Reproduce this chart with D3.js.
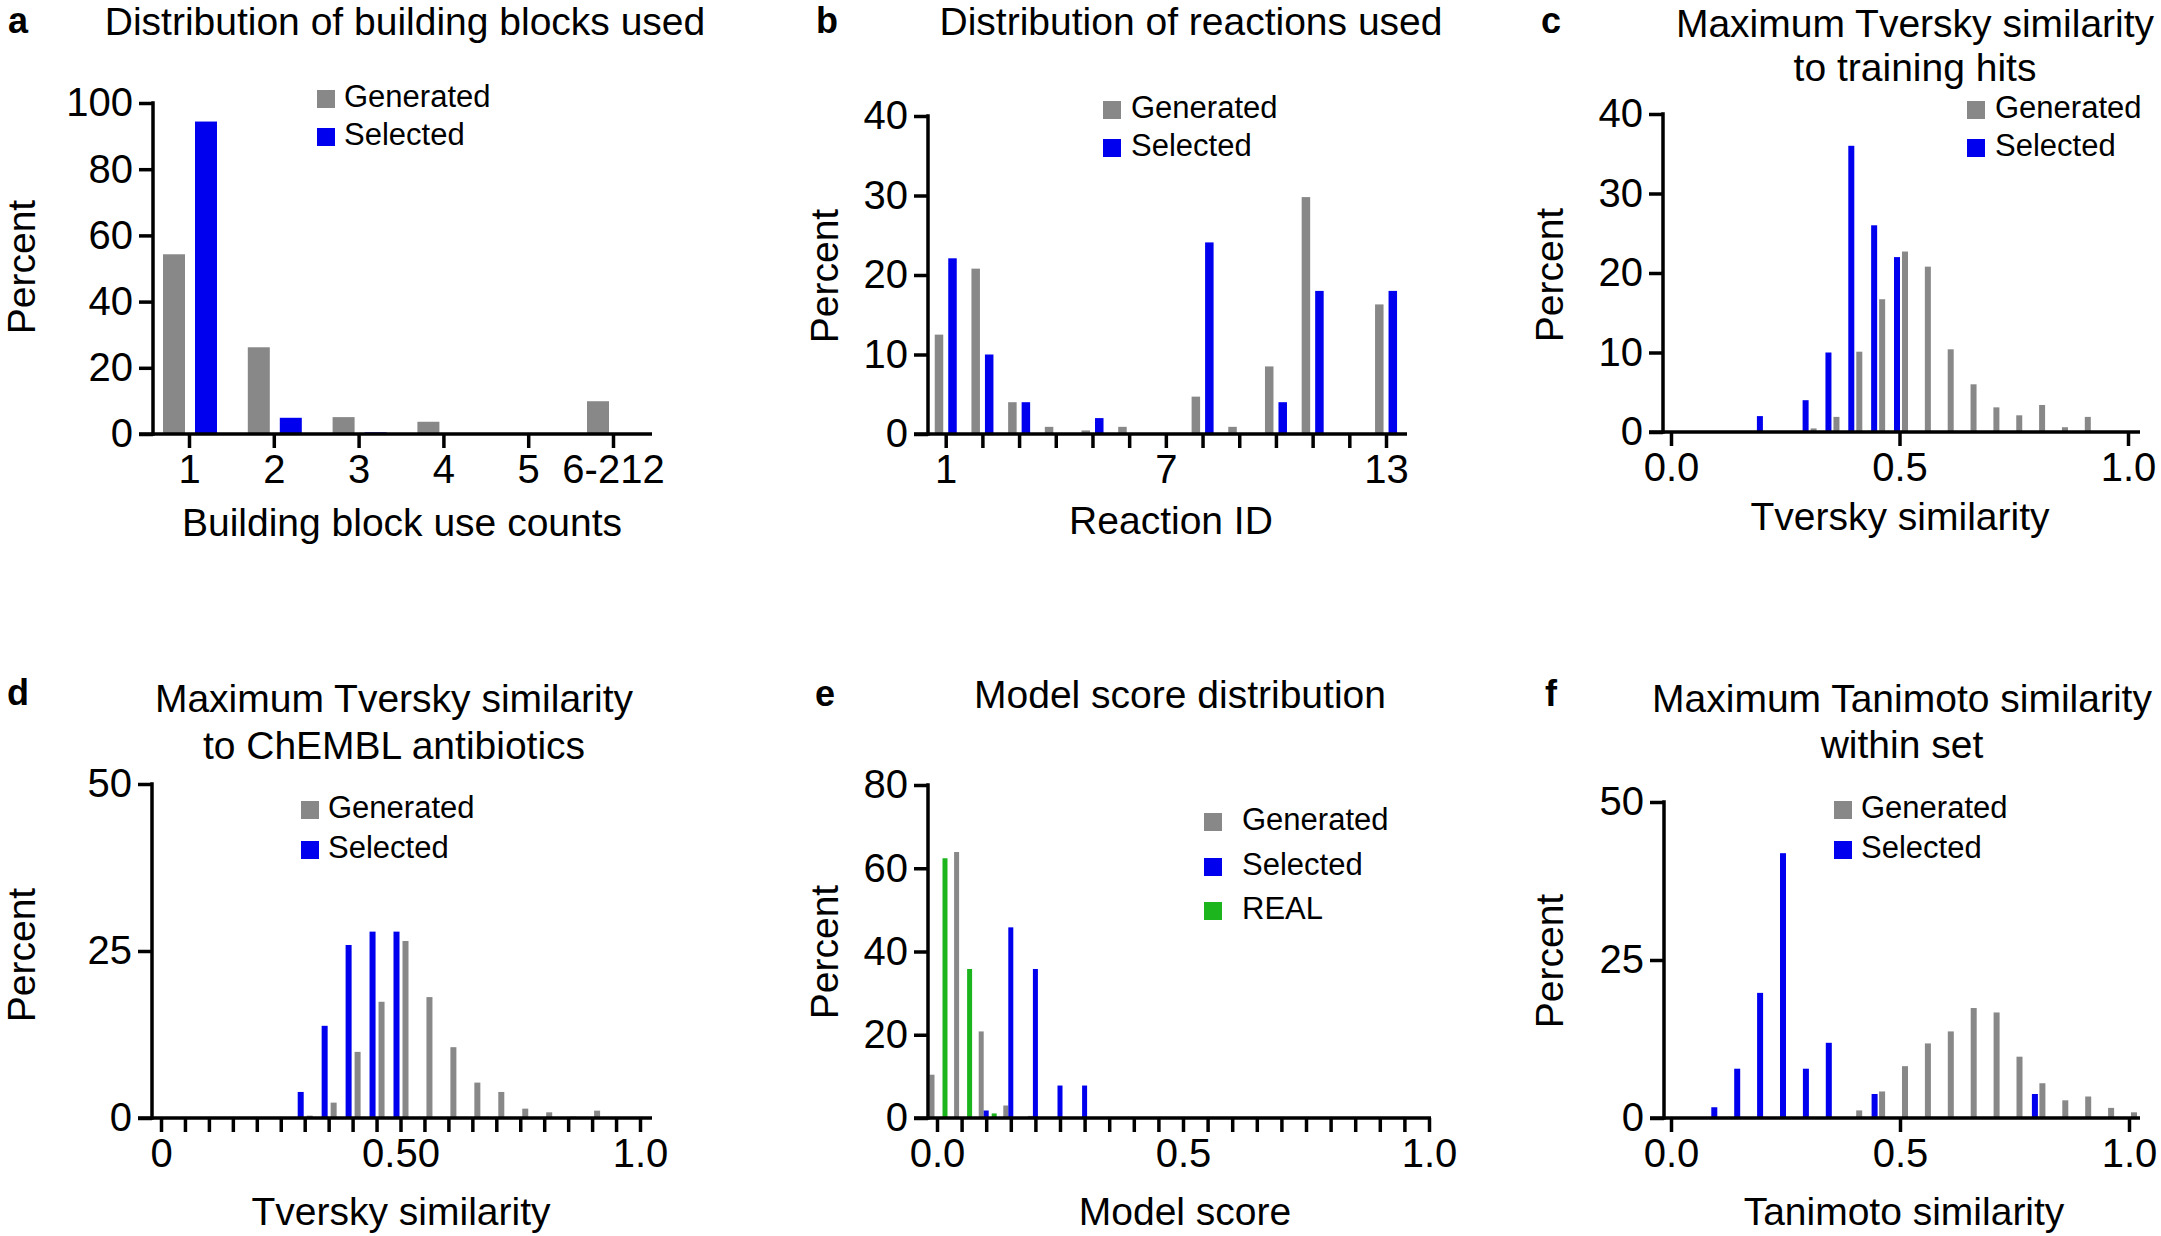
<!DOCTYPE html>
<html>
<head>
<meta charset="utf-8">
<script src="https://cdn.jsdelivr.net/npm/d3@7"></script>
<style>
  body { margin: 0; background: #fff; }
</style>
</head>
<body>
<script>
// ---- data ----
// a: building block use counts
const bbCats = ["1", "2", "3", "4", "5", "6-212"];
const bbGenerated = [54.3, 26.2, 5.1, 3.7, 0, 9.9];
const bbSelected = [94.4, 4.9, 0.5, 0, 0, 0];

// b: reaction IDs
const rxnIds = [1, 2, 3, 4, 5, 6, 7, 8, 9, 10, 11, 12, 13];
const rxnGenerated = [12.5, 20.8, 4.0, 0.9, 0.45, 0.9, 0, 4.7, 0.9, 8.5, 29.8, 0, 16.3];
const rxnSelected = [22.1, 10, 4, 0, 2, 0, 0, 24.1, 0, 4, 18, 0, 18];

// c: max Tversky similarity to training hits
const hitBins = [0.2, 0.25, 0.3, 0.35, 0.4, 0.45, 0.5, 0.55, 0.6, 0.65, 0.7, 0.75, 0.8, 0.85, 0.9];
const hitGenerated = [0, 0, 0.45, 1.9, 10.1, 16.7, 22.7, 20.8, 10.4, 6.0, 3.1, 2.1, 3.4, 0.6, 1.9];
const hitSelected = [2.0, 0, 4.0, 10.0, 36.0, 26.0, 22.0, 0, 0, 0, 0, 0, 0, 0, 0];

// d: max Tversky similarity to ChEMBL antibiotics
const chemblBins = [0.3, 0.35, 0.4, 0.45, 0.5, 0.55, 0.6, 0.65, 0.7, 0.75, 0.8, 0.85, 0.9];
const chemblGenerated = [0.35, 2.3, 9.9, 17.4, 26.5, 18.1, 10.6, 5.3, 3.9, 1.4, 0.85, 0.2, 1.1];
const chemblSelected = [3.9, 13.8, 25.9, 27.9, 27.9, 0, 0, 0, 0, 0, 0, 0, 0];

// e: model score
const scoreBins = [0, 0.05, 0.1, 0.15, 0.2, 0.25, 0.3];
const scoreGenerated = [10.4, 63.9, 20.8, 3.0, 0.5, 0, 0];
const scoreSelected = [0, 0, 1.8, 45.8, 35.8, 7.8, 7.8];
const scoreReal = [62.4, 35.8, 1.1, 0, 0, 0, 0];

// f: max Tanimoto similarity within set
const tanBins = [0.1, 0.15, 0.2, 0.25, 0.3, 0.35, 0.4, 0.45, 0.5, 0.55, 0.6, 0.65, 0.7, 0.75, 0.8, 0.85, 0.9, 0.95, 1.0];
const tanGenerated = [0, 0, 0, 0, 0, 0, 1.2, 4.2, 8.2, 11.8, 13.7, 17.4, 16.7, 9.7, 5.5, 2.8, 3.4, 1.6, 0.9];
const tanSelected = [1.7, 7.8, 19.8, 41.9, 7.8, 11.9, 0, 3.8, 0, 0, 0, 0, 0, 0, 3.8, 0, 0, 0, 0];

// ---- styling ----
const FONT = "'Liberation Sans', Arial, Helvetica, sans-serif";
const COLORS = { Generated: "#888888", Selected: "#0000ee", REAL: "#1db51d" };
const AXIS_W = 3.5;
const TICK = 14;

const svg = d3.select("body").append("svg")
    .attr("width", 2161)
    .attr("height", 1236)
    .attr("font-family", FONT);

const drawPanel = (p) => {
    const g = svg.append("g");

    const y = d3.scaleLinear().domain([0, p.yMax]).range([p.y0, p.y1]);
    const x = p.cats
        ? d3.scalePoint().domain(p.cats).range(p.xRange)
        : d3.scaleLinear().domain([0, 1]).range(p.xRange);
    const keys = p.cats || p.keys;

    // bars
    p.series.forEach((s) => {
        const rows = keys.map((k, i) => ({ k, v: s.values[i] })).filter((d) => d.v > 0);
        g.selectAll(null)
            .data(rows)
            .join("rect")
            .attr("x", (d) => x(d.k) + s.offset - p.barW / 2)
            .attr("width", p.barW)
            .attr("y", (d) => y(d.v))
            .attr("height", (d) => y(0) - y(d.v))
            .attr("fill", COLORS[s.name]);
    });

    // y axis
    const ya = g.append("g")
        .attr("transform", `translate(${p.ax},0)`)
        .call(d3.axisLeft(y).tickValues(p.yTicks).tickSize(TICK).tickPadding(6));
    ya.select(".domain").remove();

    // x axis
    let xAxis = d3.axisBottom(x).tickSize(TICK).tickPadding(7);
    if (p.xTicks) xAxis = xAxis.tickValues(p.xTicks);
    if (p.xFormat) xAxis = xAxis.tickFormat(p.xFormat);
    const xa = g.append("g")
        .attr("transform", `translate(0,${p.y0})`)
        .call(xAxis);
    xa.select(".domain").remove();

    [ya, xa].forEach((a) => {
        a.attr("font-size", 40).attr("font-family", FONT);
        a.selectAll("line").attr("stroke", "#000").attr("stroke-width", AXIS_W);
        a.selectAll("text").attr("fill", "#000");
    });

    g.append("line")
        .attr("x1", p.ax).attr("x2", p.ax)
        .attr("y1", y(p.yMax)).attr("y2", y(0))
        .attr("stroke", "#000").attr("stroke-width", AXIS_W).attr("stroke-linecap", "square");
    g.append("line")
        .attr("x1", p.ax - TICK).attr("x2", p.xEnd)
        .attr("y1", y(0)).attr("y2", y(0))
        .attr("stroke", "#000").attr("stroke-width", AXIS_W);

    // titles
    g.append("text")
        .attr("x", p.letter[0]).attr("y", p.letter[1])
        .attr("font-size", 36).attr("font-weight", "bold")
        .text(p.id);
    p.title.forEach((line, i) => {
        g.append("text")
            .attr("x", p.titlePos[0]).attr("y", p.titlePos[1 + i])
            .attr("text-anchor", "middle").attr("font-size", 39)
            .text(line);
    });
    g.append("text")
        .attr("x", p.xTitlePos[0]).attr("y", p.xTitlePos[1])
        .attr("text-anchor", "middle").attr("font-size", 39)
        .text(p.xTitle);
    g.append("text")
        .attr("transform", `translate(${p.yTitlePos[0]},${p.yTitlePos[1]}) rotate(-90)`)
        .attr("text-anchor", "middle").attr("font-size", 39)
        .text("Percent");

    // legend
    p.series.map((s) => s.name).forEach((name, i) => {
        const top = p.legend.rows[i];
        g.append("rect")
            .attr("x", p.legend.x).attr("y", top)
            .attr("width", 18).attr("height", 18)
            .attr("fill", COLORS[name]);
        g.append("text")
            .attr("x", p.legend.tx).attr("y", top + 17)
            .attr("font-size", 31)
            .text(name);
    });
};

const fineTicks = d3.range(0, 21).map((i) => i / 20);

drawPanel({
    id: "a", letter: [8, 33],
    title: ["Distribution of building blocks used"], titlePos: [405, 35],
    xTitle: "Building block use counts", xTitlePos: [402, 536], yTitlePos: [35, 267],
    cats: bbCats, xRange: [189, 613], xEnd: 652,
    ax: 153, y0: 434, y1: 103, yMax: 100, yTicks: [0, 20, 40, 60, 80, 100],
    barW: 22,
    series: [
        { name: "Generated", values: bbGenerated, offset: -15 },
        { name: "Selected", values: bbSelected, offset: 17 }
    ],
    legend: { x: 317, tx: 344, rows: [90, 128] }
});

drawPanel({
    id: "b", letter: [816, 33],
    title: ["Distribution of reactions used"], titlePos: [1191, 35],
    xTitle: "Reaction ID", xTitlePos: [1171, 534], yTitlePos: [838, 276],
    cats: rxnIds, xRange: [945.7, 1386], xEnd: 1407,
    xFormat: (d) => ([1, 7, 13].includes(d) ? d : ""),
    ax: 928, y0: 434, y1: 116, yMax: 40, yTicks: [0, 10, 20, 30, 40],
    barW: 8.5,
    series: [
        { name: "Generated", values: rxnGenerated, offset: -6.7 },
        { name: "Selected", values: rxnSelected, offset: 6.8 }
    ],
    legend: { x: 1103, tx: 1131, rows: [101, 139] }
});

drawPanel({
    id: "c", letter: [1541, 33],
    title: ["Maximum Tversky similarity", "to training hits"], titlePos: [1915, 37, 81],
    xTitle: "Tversky similarity", xTitlePos: [1900, 530], yTitlePos: [1563, 275],
    keys: hitBins, xRange: [1671, 2128], xEnd: 2140,
    xTicks: [0, 0.5, 1], xFormat: d3.format(".1f"),
    ax: 1663, y0: 432, y1: 114, yMax: 40, yTicks: [0, 10, 20, 30, 40],
    barW: 6,
    series: [
        { name: "Generated", values: hitGenerated, offset: 5.5 },
        { name: "Selected", values: hitSelected, offset: -2.5 }
    ],
    legend: { x: 1967, tx: 1995, rows: [101, 139] }
});

drawPanel({
    id: "d", letter: [7, 705],
    title: ["Maximum Tversky similarity", "to ChEMBL antibiotics"], titlePos: [394, 712, 759],
    xTitle: "Tversky similarity", xTitlePos: [401, 1225], yTitlePos: [35, 955],
    keys: chemblBins, xRange: [161, 640], xEnd: 652,
    xTicks: fineTicks,
    xFormat: (d) => (d === 0 ? "0" : d === 0.5 ? "0.50" : d === 1 ? "1.0" : ""),
    ax: 152, y0: 1118, y1: 784, yMax: 50, yTicks: [0, 25, 50],
    barW: 6,
    series: [
        { name: "Generated", values: chemblGenerated, offset: 5 },
        { name: "Selected", values: chemblSelected, offset: -4 }
    ],
    legend: { x: 301, tx: 328, rows: [801, 841] }
});

drawPanel({
    id: "e", letter: [815, 706],
    title: ["Model score distribution"], titlePos: [1180, 708],
    xTitle: "Model score", xTitlePos: [1185, 1225], yTitlePos: [838, 952],
    keys: scoreBins, xRange: [937, 1429], xEnd: 1431,
    xTicks: fineTicks,
    xFormat: (d) => (d === 0 ? "0.0" : d === 0.5 ? "0.5" : d === 1 ? "1.0" : ""),
    ax: 928, y0: 1118, y1: 785, yMax: 80, yTicks: [0, 20, 40, 60, 80],
    barW: 5,
    series: [
        { name: "Generated", values: scoreGenerated, offset: -5 },
        { name: "Selected", values: scoreSelected, offset: 0 },
        { name: "REAL", values: scoreReal, offset: 8 }
    ],
    legend: { x: 1204, tx: 1242, rows: [813, 858, 902] }
});

drawPanel({
    id: "f", letter: [1545, 706],
    title: ["Maximum Tanimoto similarity", "within set"], titlePos: [1902, 712, 758],
    xTitle: "Tanimoto similarity", xTitlePos: [1904, 1225], yTitlePos: [1563, 961],
    keys: tanBins, xRange: [1671, 2129], xEnd: 2140,
    xTicks: [0, 0.5, 1], xFormat: d3.format(".1f"),
    ax: 1664, y0: 1118, y1: 802, yMax: 50, yTicks: [0, 25, 50],
    barW: 6,
    series: [
        { name: "Generated", values: tanGenerated, offset: 5 },
        { name: "Selected", values: tanSelected, offset: -2.5 }
    ],
    legend: { x: 1834, tx: 1861, rows: [801, 841] }
});
</script>
</body>
</html>
